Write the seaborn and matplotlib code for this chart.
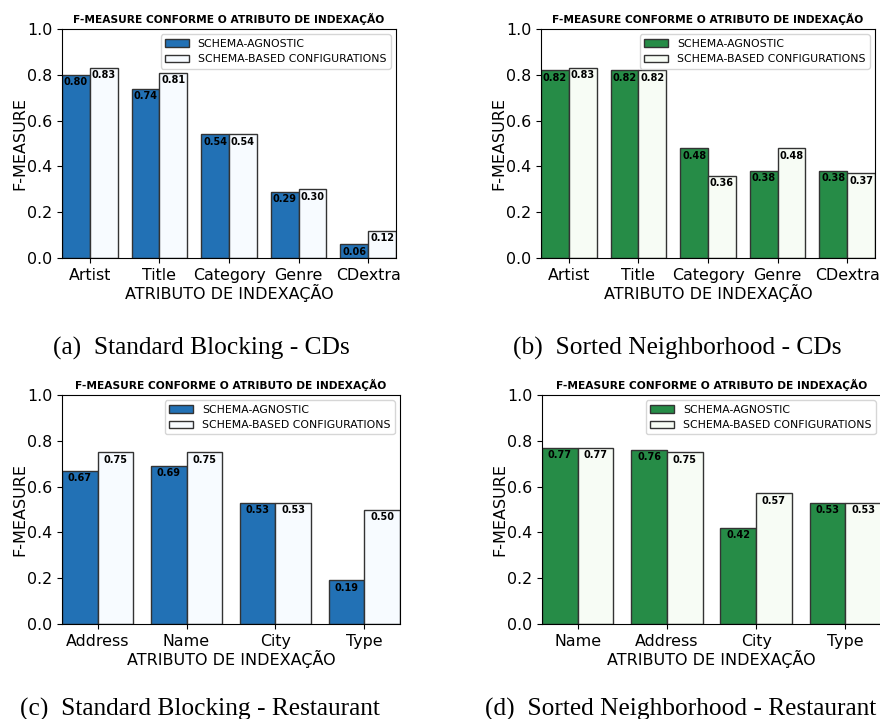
import numpy as np
import pandas as pd
import matplotlib
matplotlib.use("Agg")
import matplotlib.pyplot as plt
import seaborn as sns

# dados
configs = ["SCHEMA-AGNOSTIC", "SCHEMA-BASED CONFIGURATIONS"]

cds_attrs = ["Artist", "Title", "Category", "Genre", "CDextra"]
sb_cds_agnostic = [0.80, 0.74, 0.54, 0.29, 0.06]
sb_cds_based = [0.83, 0.81, 0.54, 0.30, 0.12]
sn_cds_agnostic = [0.82, 0.82, 0.48, 0.38, 0.38]
sn_cds_based = [0.83, 0.82, 0.36, 0.48, 0.37]

sb_rest_attrs = ["Address", "Name", "City", "Type"]
sb_rest_agnostic = [0.67, 0.69, 0.53, 0.19]
sb_rest_based = [0.75, 0.75, 0.53, 0.50]

sn_rest_attrs = ["Name", "Address", "City", "Type"]
sn_rest_agnostic = [0.77, 0.76, 0.42, 0.53]
sn_rest_based = [0.77, 0.75, 0.57, 0.53]

captions = [
    "(a)  Standard Blocking - CDs",
    "(b)  Sorted Neighborhood - CDs",
    "(c)  Standard Blocking - Restaurant",
    "(d)  Sorted Neighborhood - Restaurant",
]

blues = ["#2271b5", "#f7fbff"]
greens = ["#268c47", "#f7fcf5"]

W, H = 880, 719
fig = plt.figure(figsize=(W / 100, H / 100), dpi=100)


def px_axes(left, top, right, bottom):
    return fig.add_axes([left / W, 1 - bottom / H, (right - left) / W, (bottom - top) / H])


def draw_panel(ax, attrs, agnostic, based, palette):
    df = pd.DataFrame({
        "attr": attrs * 2,
        "fm": agnostic + based,
        "config": [configs[0]] * len(attrs) + [configs[1]] * len(attrs),
    })
    sns.barplot(data=df, x="attr", y="fm", hue="config", hue_order=configs,
                palette=palette, saturation=1, edgecolor="#333333", linewidth=1,
                errorbar=None, width=0.8, ax=ax)
    for cont in ax.containers:
        ax.bar_label(cont, fmt="%.2f", padding=-9, fontsize=7,
                     fontweight="bold", color="black")
    ax.set_ylim(0, 1.0)
    ax.set_xlim(-0.4, len(attrs) - 0.6)
    ax.set_yticks(np.arange(0, 1.01, 0.2))
    ax.tick_params(labelsize=11.4)
    ax.set_title("F-MEASURE CONFORME O ATRIBUTO DE INDEXAÇÃO", fontsize=7.7,
                 fontweight="bold", pad=4)
    ax.set_xlabel("ATRIBUTO DE INDEXAÇÃO", fontsize=11.5, labelpad=1)
    ax.set_ylabel("F-MEASURE", fontsize=11.5, labelpad=0)
    handles, labels = ax.get_legend_handles_labels()
    ax.legend(handles, labels, loc="upper right", fontsize=7.8, framealpha=0.8,
              handlelength=2.2)


ax_a = px_axes(62, 29, 396, 258)
draw_panel(ax_a, cds_attrs, sb_cds_agnostic, sb_cds_based, blues)
ax_b = px_axes(541, 29, 875, 258)
draw_panel(ax_b, cds_attrs, sn_cds_agnostic, sn_cds_based, greens)
ax_c = px_axes(62, 395, 400, 624)
draw_panel(ax_c, sb_rest_attrs, sb_rest_agnostic, sb_rest_based, blues)
ax_d = px_axes(542, 395, 881, 624)
draw_panel(ax_d, sn_rest_attrs, sn_rest_agnostic, sn_rest_based, greens)

cap_font = dict(fontsize=18.3, family="Liberation Serif", va="center", ha="left")
fig.text(53 / W, 1 - 348 / H, captions[0], **cap_font)
fig.text(513 / W, 1 - 348 / H, captions[1], **cap_font)
fig.text(20 / W, 1 - 709 / H, captions[2], **cap_font)
fig.text(485 / W, 1 - 709 / H, captions[3], **cap_font)

fig.savefig("out.png", dpi=100)
